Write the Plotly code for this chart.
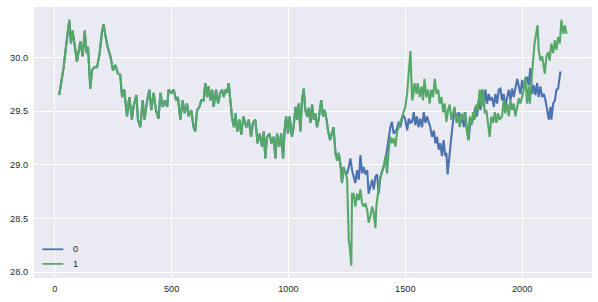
import plotly.graph_objects as go

# Shared segment (both series identical up to ~1244)
common_x = [19, 38, 48, 62, 69, 76, 88, 95, 109, 119, 128, 135, 142, 152, 159, 170, 181, 192, 202, 209,
            216, 226, 238, 249, 259, 270, 280, 288, 297, 309, 319, 330, 337, 349, 356, 366, 376, 384, 395, 405,
            413, 423, 433, 444, 452, 462, 471, 481, 487, 499, 509, 519, 527, 537, 547, 556, 566, 573, 584, 594,
            601, 609, 619, 627, 637, 644, 652, 658, 666, 673, 680, 690, 699, 708, 716, 723, 730, 737, 744, 751,
            759, 767, 773, 781, 790, 798, 807, 815, 820, 830, 840, 848, 858, 868, 877, 887, 894, 901, 908, 919,
            927, 937, 944, 951, 961, 969, 977, 984, 990, 998, 1005, 1015, 1022, 1030, 1037, 1044, 1051, 1058, 1065, 1072,
            1080, 1086, 1094, 1101, 1108, 1115, 1122, 1129, 1140, 1148, 1155, 1163, 1169, 1178, 1187, 1193, 1201, 1209, 1215, 1222,
            1229, 1236, 1244]
common_y = [29.65, 29.91, 30.10, 30.35, 30.13, 30.25, 30.07, 29.96, 30.15, 30.01, 30.25, 30.04, 30.10, 29.71, 29.88, 29.91, 29.91, 30.04, 30.24, 30.31,
            30.21, 30.10, 30.01, 29.88, 29.93, 29.85, 29.84, 29.63, 29.70, 29.45, 29.63, 29.42, 29.54, 29.65, 29.42, 29.35, 29.60, 29.42, 29.60, 29.70,
            29.51, 29.67, 29.51, 29.43, 29.67, 29.54, 29.60, 29.54, 29.70, 29.67, 29.70, 29.60, 29.63, 29.42, 29.60, 29.48, 29.57, 29.45, 29.51, 29.35,
            29.31, 29.51, 29.54, 29.60, 29.60, 29.76, 29.63, 29.73, 29.60, 29.70, 29.54, 29.70, 29.57, 29.67, 29.70, 29.63, 29.70, 29.67, 29.76, 29.57,
            29.43, 29.35, 29.48, 29.31, 29.42, 29.28, 29.45, 29.39, 29.35, 29.42, 29.26, 29.39, 29.42, 29.20, 29.29, 29.17, 29.31, 29.06, 29.26, 29.29,
            29.20, 29.26, 29.06, 29.29, 29.17, 29.29, 29.06, 29.34, 29.45, 29.29, 29.45, 29.26, 29.35, 29.54, 29.42, 29.57, 29.31, 29.60, 29.71, 29.51,
            29.45, 29.53, 29.39, 29.56, 29.42, 29.48, 29.35, 29.42, 29.60, 29.45, 29.51, 29.42, 29.32, 29.23, 29.32, 29.35, 29.11, 29.04, 29.11, 29.01,
            28.83, 28.98, 28.92]

# Series "0" (blue) after divergence
blue_tail_x = [1251, 1258, 1265, 1272, 1279, 1286, 1294, 1301, 1308, 1315, 1322, 1329, 1337, 1343, 1351, 1358, 1365, 1372, 1379, 1386,
               1394, 1401, 1407, 1415, 1422, 1429, 1436, 1443, 1450, 1458, 1465, 1472, 1479, 1486, 1493, 1500, 1508, 1515, 1522, 1529,
               1536, 1543, 1550, 1557, 1564, 1572, 1579, 1586, 1593, 1600, 1607, 1614, 1622, 1629, 1636, 1643, 1650, 1657, 1664, 1671,
               1676, 1681, 1686, 1693, 1700, 1707, 1714, 1722, 1729, 1736, 1743, 1750, 1757, 1764, 1771, 1779, 1786, 1793, 1800, 1807,
               1814, 1822, 1829, 1836, 1843, 1850, 1857, 1864, 1871, 1879, 1886, 1893, 1900, 1907, 1914, 1921, 1928, 1936, 1943, 1950,
               1957, 1964, 1971, 1979, 1986, 1993, 2000, 2007, 2014, 2021, 2028, 2035, 2043, 2050, 2057, 2064, 2071, 2078, 2086, 2093,
               2100, 2107, 2114, 2121, 2125, 2133, 2140, 2147, 2154, 2159, 2164]
blue_tail_y = [28.92, 28.98, 29.06, 28.95, 28.89, 28.83, 28.95, 28.86, 29.09, 28.92, 28.98, 28.91, 28.95, 28.73, 28.80, 28.86, 28.77, 28.89, 28.91, 28.73,
               28.89, 28.95, 28.98, 29.04, 29.14, 29.26, 29.35, 29.40, 29.29, 29.31, 29.34, 29.40, 29.35, 29.43, 29.46, 29.42, 29.32, 29.43, 29.39, 29.40,
               29.49, 29.37, 29.45, 29.35, 29.43, 29.35, 29.49, 29.39, 29.45, 29.40, 29.35, 29.26, 29.32, 29.20, 29.26, 29.14, 29.20, 29.08, 29.23, 29.08,
               29.11, 28.91, 29.04, 29.17, 29.32, 29.45, 29.49, 29.42, 29.49, 29.39, 29.46, 29.35, 29.49, 29.32, 29.23, 29.42, 29.39, 29.46, 29.54, 29.45,
               29.60, 29.51, 29.70, 29.54, 29.70, 29.57, 29.66, 29.60, 29.63, 29.54, 29.66, 29.57, 29.70, 29.71, 29.60, 29.66, 29.54, 29.63, 29.70, 29.60,
               29.71, 29.63, 29.70, 29.80, 29.73, 29.66, 29.79, 29.70, 29.77, 29.82, 29.74, 29.90, 29.66, 29.74, 29.65, 29.76, 29.63, 29.73, 29.63, 29.66,
               29.60, 29.51, 29.42, 29.54, 29.42, 29.57, 29.60, 29.70, 29.71, 29.79, 29.87]

# Series "1" (green) after divergence
green_tail_x = [1251, 1258, 1262, 1269, 1272, 1279, 1286, 1294, 1301, 1308, 1315, 1322, 1329, 1337, 1343, 1351, 1358, 1365, 1372, 1376,
                1384, 1390, 1398, 1407, 1415, 1422, 1429, 1436, 1443, 1450, 1458, 1465, 1472, 1479, 1486, 1493, 1500, 1508, 1515, 1522,
                1529, 1533, 1539, 1548, 1553, 1562, 1569, 1576, 1582, 1590, 1598, 1604, 1612, 1619, 1626, 1634, 1641, 1647, 1655, 1662,
                1669, 1676, 1683, 1690, 1697, 1705, 1711, 1719, 1726, 1733, 1740, 1747, 1754, 1762, 1769, 1776, 1783, 1790, 1797, 1804,
                1811, 1818, 1826, 1833, 1840, 1847, 1854, 1861, 1868, 1876, 1883, 1890, 1897, 1904, 1914, 1921, 1928, 1936, 1943, 1950,
                1957, 1964, 1971, 1979, 1986, 1993, 2000, 2007, 2014, 2021, 2028, 2033, 2038, 2045, 2053, 2060, 2066, 2071, 2078, 2086,
                2093, 2097, 2104, 2111, 2118, 2125, 2133, 2140, 2147, 2154, 2161, 2168, 2176, 2183, 2190]
green_tail_y = [28.87, 28.30, 28.24, 28.06, 28.73, 28.73, 28.61, 28.73, 28.67, 28.77, 28.64, 28.61, 28.64, 28.58, 28.46, 28.52, 28.61, 28.55, 28.41, 28.61,
                28.77, 28.86, 28.92, 28.98, 29.08, 28.92, 29.14, 29.26, 29.20, 29.25, 29.17, 29.31, 29.35, 29.40, 29.43, 29.48, 29.54, 29.67, 29.91, 30.06,
                29.60, 29.63, 29.76, 29.66, 29.76, 29.63, 29.73, 29.60, 29.80, 29.63, 29.70, 29.57, 29.70, 29.63, 29.80, 29.66, 29.70, 29.57, 29.63, 29.49,
                29.57, 29.40, 29.51, 29.56, 29.42, 29.49, 29.54, 29.39, 29.46, 29.35, 29.48, 29.42, 29.49, 29.35, 29.23, 29.45, 29.37, 29.49, 29.42, 29.56,
                29.51, 29.70, 29.54, 29.70, 29.48, 29.51, 29.39, 29.26, 29.45, 29.39, 29.49, 29.39, 29.48, 29.42, 29.45, 29.60, 29.48, 29.57, 29.45, 29.60,
                29.51, 29.57, 29.45, 29.54, 29.62, 29.57, 29.63, 29.70, 29.82, 29.57, 29.73, 29.57, 29.73, 29.91, 30.13, 30.22, 30.30, 30.07, 29.97, 30.01,
                29.91, 29.85, 30.01, 30.05, 29.97, 30.13, 30.04, 30.16, 30.07, 30.19, 30.13, 30.35, 30.22, 30.30, 30.22]

series_names = ["0", "1"]
series_colors = ["#4C72B0", "#55A868"]
x_ticks = [0, 500, 1000, 1500, 2000]
y_ticks = [28.0, 28.5, 29.0, 29.5, 30.0]

s0_x = common_x + blue_tail_x
s0_y = common_y + blue_tail_y
s1_x = common_x + green_tail_x
s1_y = common_y + green_tail_y

FONT = "Liberation Sans, Arial, sans-serif"

fig = go.Figure()
for name, xs, ys, col in [(series_names[0], s0_x, s0_y, series_colors[0]),
                          (series_names[1], s1_x, s1_y, series_colors[1])]:
    fig.add_trace(go.Scatter(x=xs, y=ys, mode="lines", name=name,
                             line=dict(color=col, width=2.1), showlegend=False))

fig.update_layout(
    width=598, height=302,
    margin=dict(l=34, r=6, t=7, b=24),
    paper_bgcolor="white", plot_bgcolor="#EAEAF2",
    font=dict(family=FONT, size=9.2, color="#262626"),
    xaxis=dict(range=[-89, 2299], tickvals=x_ticks, ticktext=[str(v) for v in x_ticks],
               showgrid=True, gridcolor="white", gridwidth=1, zeroline=False,
               showline=False, ticks="", ticklabelstandoff=4),
    yaxis=dict(range=[27.945, 30.47], tickvals=y_ticks, ticktext=[f"{v:.1f}" for v in y_ticks],
               showgrid=True, gridcolor="white", gridwidth=1, zeroline=False,
               showline=False, ticks="", ticklabelstandoff=5),
)

# Legend (frameless, lower-left), drawn with shapes and text
leg_y = [0.106, 0.052]
for i, (name, col) in enumerate(zip(series_names, series_colors)):
    fig.add_shape(type="line", xref="paper", yref="paper", x0=0.0149, x1=0.0525,
                  y0=leg_y[i], y1=leg_y[i], line=dict(color=col, width=1.75))
    fig.add_annotation(xref="paper", yref="paper", x=0.0658, y=leg_y[i], text=name,
                       showarrow=False, xanchor="left", yanchor="middle",
                       font=dict(family=FONT, size=9.2, color="#262626"))

fig.write_html("out.html")
